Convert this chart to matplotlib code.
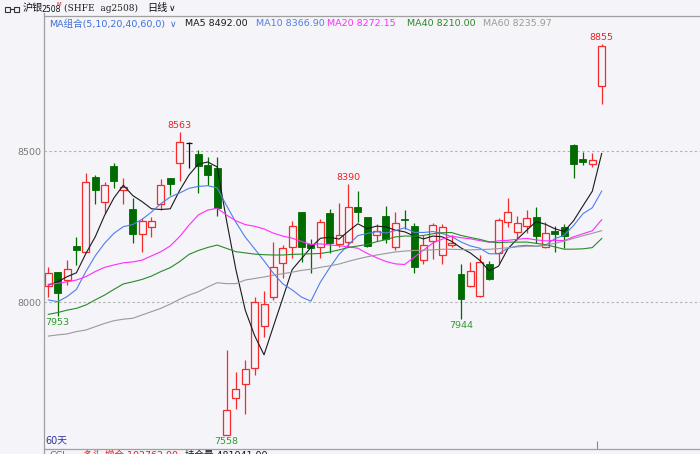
import matplotlib
matplotlib.use("Agg")
import matplotlib.pyplot as plt
from matplotlib.patches import Rectangle
from matplotlib.lines import Line2D
import numpy as np
import pandas as pd

plt.rcParams['font.family'] = ['DejaVu Sans', 'Noto Sans CJK SC']

# ---------------- data ----------------
opens = [8053, 8098, 8073, 8186, 8167, 8414, 8331, 8452, 8372, 8308,
         8226, 8250, 8325, 8411, 8460, 8527, 8491, 8453, 8444, 7559,
         7683, 7728, 7780, 7922, 8018, 8129, 8182, 8300, 8192, 8182,
         8297, 8192, 8200, 8314, 8281, 8222, 8285, 8181, 8276, 8252,
         8139, 8204, 8156, 8188, 8093, 8053, 8020, 8126, 8162, 8267,
         8233, 8252, 8281, 8182, 8237, 8248, 8521, 8474, 8459, 8718]
highs = [8117, 8100, 8140, 8215, 8427, 8422, 8399, 8460, 8411, 8344,
         8278, 8281, 8408, 8411, 8563, 8532, 8505, 8480, 8480, 7841,
         7769, 7808, 8016, 8035, 8198, 8189, 8270, 8300, 8208, 8275,
         8308, 8330, 8390, 8369, 8281, 8259, 8319, 8300, 8305, 8263,
         8222, 8263, 8259, 8222, 8126, 8134, 8156, 8137, 8278, 8344,
         8285, 8305, 8314, 8267, 8252, 8259, 8524, 8499, 8493, 8855]
lows = [8016, 7953, 8055, 8123, 8165, 8325, 8294, 8377, 8325, 8195,
        8167, 8217, 8305, 8355, 8400, 8444, 8363, 8388, 8286, 7558,
        7644, 7628, 7758, 7885, 8007, 8079, 8145, 8134, 8095, 8147,
        8164, 8181, 8181, 8267, 8184, 8204, 8197, 8173, 8241, 8097,
        8126, 8142, 8126, 8181, 7944, 8051, 8018, 8074, 8128, 8248,
        8206, 8230, 8197, 8178, 8167, 8178, 8410, 8454, 8449, 8657]
closes = [8095, 8031, 8109, 8171, 8397, 8372, 8388, 8400, 8381, 8226,
          8270, 8270, 8388, 8392, 8530, 8527, 8452, 8422, 8311, 7642,
          7711, 7778, 7999, 7994, 8115, 8178, 8252, 8182, 8178, 8267,
          8195, 8222, 8314, 8300, 8186, 8237, 8208, 8261, 8272, 8117,
          8189, 8255, 8248, 8197, 8009, 8104, 8134, 8075, 8272, 8300,
          8263, 8280, 8219, 8228, 8225, 8219, 8457, 8466, 8472, 8850]

# moving-average values before enough visible closes exist
ma5_head = [8056, 8067, 8084, 8097]
ma10_head = [8007, 8001, 8018, 8042, 8101, 8153, 8195, 8228, 8250]
ma20_head = [8059, 8062, 8067, 8073, 8084, 8101, 8115, 8123, 8130, 8133,
             8139, 8153, 8167, 8186, 8217, 8255, 8289, 8305, 8311]
ma40_head = [7959, 7965, 7973, 7979, 7990, 8007, 8023, 8042, 8060, 8067,
             8075, 8086, 8101, 8114, 8134, 8158, 8171, 8181, 8189, 8178,
             8167, 8163, 8159, 8157, 8156, 8156, 8158, 8159, 8160, 8161,
             8166, 8173, 8181, 8186, 8191, 8200, 8207, 8216, 8219]
ma60_head = [7887, 7891, 7894, 7902, 7907, 7918, 7929, 7938, 7943, 7946,
             7957, 7968, 7979, 7993, 8009, 8023, 8034, 8050, 8064, 8061,
             8061, 8073, 8078, 8083, 8089, 8094, 8099, 8105, 8109, 8115,
             8120, 8126, 8135, 8143, 8150, 8156, 8161, 8166, 8169, 8171,
             8172, 8173, 8175, 8175, 8174, 8173, 8174, 8175, 8177, 8180,
             8183, 8185, 8185, 8188, 8195, 8202, 8211, 8220, 8228]

ma_windows = [5, 10, 20, 40, 60]
ma_heads = [ma5_head, ma10_head, ma20_head, ma40_head, ma60_head]
ma_colors = ['#1a1a1a', '#4f7fe8', '#ff2cff', '#2a8a2a', '#9a9a9a']
ma_texts = ['MA5 8492.00', 'MA10 8366.90', 'MA20 8272.15', 'MA40 8210.00', 'MA60 8235.97']
ma_text_x = [185, 256, 327, 407, 483]

high_marks = {14: '8563', 32: '8390', 59: '8855'}
low_marks = {1: '7953', 19: '7558', 44: '7944'}
yticks = [8000, 8500]

# ---------------- figure ----------------
W, H = 700, 454
BG = '#f4f4f9'
UP = '#f52a2a'
DN = '#006c00'
fig = plt.figure(figsize=(W / 100, H / 100), dpi=100, facecolor=BG)

def fx(x):
    return x / W

def fy(y):
    return 1 - y / H

ax = fig.add_axes([fx(44), fy(449), fx(700) - fx(44), fy(16) - fy(449)])
ax.set_facecolor(BG)
ax.set_xlim(-0.458, 69.48)
ax.set_ylim(7512.3, 8949)

# grid lines
for v in yticks:
    ax.axhline(v, color='#b4b4b4', lw=0.8, ls=(0, (2.2, 2.2)), zorder=1)

# candles
n = len(closes)
bw = 0.74
for i in range(n):
    o, h, l, c = opens[i], highs[i], lows[i], closes[i]
    if c > o:
        col = UP
        ax.vlines(i, l, o, color=col, lw=0.9, zorder=2)
        ax.vlines(i, c, h, color=col, lw=0.9, zorder=2)
        ax.add_patch(Rectangle((i - bw / 2, o), bw, c - o, facecolor=BG,
                               edgecolor=col, lw=0.9, zorder=3))
    elif c < o:
        col = DN
        ax.vlines(i, l, h, color=col, lw=0.9, zorder=2)
        ax.add_patch(Rectangle((i - bw / 2, c), bw, o - c, facecolor=col,
                               edgecolor=col, lw=0.6, zorder=3))
    else:
        col = '#111111'
        ax.vlines(i, l, h, color=col, lw=0.9, zorder=2)
        ax.hlines(c, i - bw / 2, i + bw / 2, color=col, lw=0.9, zorder=3)

# moving averages
s = pd.Series(closes, dtype=float)
xs = np.arange(n)
for w, head, col in zip(ma_windows, ma_heads, ma_colors):
    m = s.rolling(w).mean().to_numpy()
    m[:len(head)] = head
    ax.plot(xs, m, color=col, lw=0.8, zorder=4)

# high / low labels
for i, t in high_marks.items():
    ax.annotate(t, (i, highs[i]), xytext=(0, 1.5), textcoords='offset points',
                ha='center', va='bottom', color='#f02020', fontsize=6.8, zorder=6)
for i, t in low_marks.items():
    ax.annotate(t, (i, lows[i]), xytext=(0, -1.5), textcoords='offset points',
                ha='center', va='top', color='#2e9a2e', fontsize=6.8, zorder=6)

# axes styling
for side in ['right', 'left']:
    ax.spines[side].set_visible(False)
ax.spines['top'].set_color('#a0a0a0')
ax.spines['bottom'].set_color('#a0a0a0')
ax.spines['top'].set_linewidth(0.9)
ax.spines['bottom'].set_linewidth(0.9)
ax.set_yticks(yticks)
ax.set_yticklabels([str(v) for v in yticks], color='#7a7a7a', fontsize=6.8)
ax.tick_params(axis='y', length=0, pad=2)
ax.set_xticks([58.5])
ax.set_xticklabels([''])
ax.tick_params(axis='x', direction='in', length=6, width=0.8, color='#888888')

# left axis line spanning to the figure bottom
fig.add_artist(Line2D([fx(44), fx(44)], [fy(13), 0], color='#a0a0a0', lw=0.9))

# header
fig.add_artist(Rectangle((fx(5), fy(11.5)), 5 / W, 4.5 / H, transform=fig.transFigure,
                         facecolor='none', edgecolor='#333333', lw=0.8))
fig.add_artist(Rectangle((fx(14), fy(11.5)), 5 / W, 4.5 / H, transform=fig.transFigure,
                         facecolor='none', edgecolor='#333333', lw=0.8))
fig.add_artist(Line2D([fx(10), fx(14)], [fy(9.2), fy(9.2)], color='#333333', lw=0.8))
fig.text(fx(23), fy(8.5), '沪银', fontsize=7.3, color='#111111', va='center', ha='left',
         family=['Noto Sans CJK SC'])
fig.text(fx(41.5), fy(9), '2508', fontsize=5.6, color='#111111', va='center', ha='left',
         family=['Liberation Sans Narrow', 'DejaVu Sans'])
fig.text(fx(56.8), fy(5), 'M', fontsize=4.0, color='#e02020', va='center', ha='left')
fig.text(fx(63.5), fy(8.5), '(SHFE  ag2508)', fontsize=6.5, color='#222222', va='center',
         ha='left', family=['DejaVu Serif'])
fig.text(fx(147), fy(8.5), '日线', fontsize=7.3, color='#111111', va='center', ha='left',
         family=['Noto Sans CJK SC'])
fig.text(fx(169), fy(8.5), '∨', fontsize=6.5, color='#111111', va='center', ha='left')

# MA legend row
fig.text(fx(49), fy(24), 'MA组合(5,10,20,40,60,0)', fontsize=6.8, color='#3f6fd8',
         va='center', ha='left')
fig.text(fx(170), fy(24.5), '∨', fontsize=6.5, color='#3f6fd8', va='center', ha='left')
for t, xx, col in zip(ma_texts, ma_text_x, ma_colors):
    fig.text(fx(xx), fy(24), t, fontsize=6.8, color=col, va='center', ha='left')

# bottom
fig.text(fx(45), fy(441), '60天', fontsize=7, color='#30309a', va='center', ha='left')
fig.text(fx(49), fy(451), 'CCI', fontsize=6.8, color='#3f6fd8', va='top', ha='left')
fig.text(fx(83), fy(451), '多头 增仓 102762.00', fontsize=6.8, color='#e02020', va='top', ha='left')
fig.text(fx(185), fy(451), '持仓量 481041.00', fontsize=6.8, color='#111111', va='top', ha='left')

fig.savefig('out.png', dpi=100, facecolor=BG)
